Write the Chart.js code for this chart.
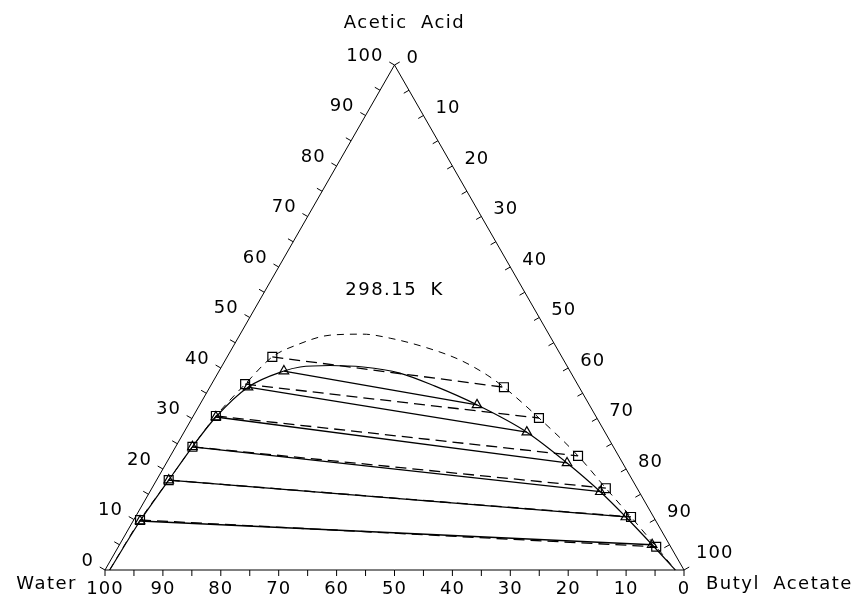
<!DOCTYPE html>
<html><head><meta charset="utf-8">
<script src="https://cdn.jsdelivr.net/npm/chart.js@4.4.0/dist/chart.umd.min.js"></script>
<style>html,body{margin:0;padding:0;background:#fff;} canvas{display:block;}</style>
</head><body>
<canvas id="c" width="854" height="599"></canvas>
<script>
// ---- data (mass %) ----
const tickValues  = [0,5,10,15,20,25,30,35,40,45,50,55,60,65,70,75,80,85,90,95,100];
const labelValues = [0,10,20,30,40,50,60,70,80,90,100];
const componentNames = ['Water', 'Acetic Acid', 'Butyl Acetate'];
const temperatureLabel = '298.15 K';

// experimental tie lines: water-rich phase / ester-rich phase
const expAqAcid   = [42.2, 36.8, 30.5, 24.4, 17.8, 9.9];
const expAqButyl  = [7.8, 5.8, 3.9, 2.9, 2.1, 1.1];
const expOrgAcid  = [36.2, 30.1, 22.6, 16.2, 10.5, 4.6];
const expOrgButyl = [50.8, 59.9, 70.4, 78.4, 85.6, 92.9];
// calculated tie lines
const calcAqAcid   = [39.4, 36.2, 30.3, 24.4, 17.8, 9.7];
const calcAqButyl  = [11.2, 6.6, 4.0, 2.9, 2.1, 1.2];
const calcOrgAcid  = [32.7, 27.3, 21.2, 15.5, 10.5, 5.0];
const calcOrgButyl = [47.9, 59.2, 69.2, 77.8, 84.7, 92.0];
// binodal curves
const expBinAcid   = [0, 9.9, 17.8, 24.4, 30.5, 36.8, 42.2, 44.6, 46.5, 46.7, 45.9, 44.0, 41.6, 38.6, 36.2, 30.1, 22.6, 16.2, 10.5, 4.6, 0];
const expBinButyl  = [0.8, 1.1, 2.1, 2.9, 3.9, 5.8, 7.8, 10.9, 15.6, 21.2, 26.3, 33.6, 40.5, 46.7, 50.8, 59.9, 70.4, 78.4, 85.6, 92.9, 98.5];
const calcBinAcid  = [0, 9.7, 17.8, 24.4, 30.3, 36.2, 39.4, 40.2, 40.5, 40.2, 39.0, 36.4, 32.7, 27.3, 21.2, 15.5, 10.5, 5.0, 0];
const calcBinButyl = [0.8, 1.2, 2.1, 2.9, 4.0, 6.6, 11.2, 13.6, 18.6, 24.5, 31.4, 38.8, 47.9, 59.2, 69.2, 77.8, 84.7, 92.0, 98.5];

// ---- ternary -> chart coordinates ----
function tern(acid, butyl) { return { x: butyl + acid / 2, y: acid }; }

const datasets = [];
const black = '#000';
// frame
datasets.push({ data: [tern(0,0), tern(100,0), tern(0,100), tern(0,0)], showLine: true,
  borderColor: black, borderWidth: 1, pointRadius: 0, tension: 0 });
// binodals
datasets.push({ data: expBinAcid.map((a,i) => tern(a, expBinButyl[i])), showLine: true,
  borderColor: black, borderWidth: 1, borderDash: [7,6], pointRadius: 0, cubicInterpolationMode: 'monotone' });
datasets.push({ data: calcBinAcid.map((a,i) => tern(a, calcBinButyl[i])), showLine: true,
  borderColor: black, borderWidth: 1.2, pointRadius: 0, cubicInterpolationMode: 'monotone' });
// tie lines
expAqAcid.forEach((a,i) => {
  datasets.push({ data: [tern(a, expAqButyl[i]), tern(expOrgAcid[i], expOrgButyl[i])], showLine: true,
    borderColor: black, borderWidth: 1.3, borderDash: [11,6], pointStyle: 'rect', pointRadius: 6.3,
    pointBorderColor: black, pointBorderWidth: 1.2, pointBackgroundColor: 'rgba(0,0,0,0)' });
});
calcAqAcid.forEach((a,i) => {
  datasets.push({ data: [tern(a, calcAqButyl[i]), tern(calcOrgAcid[i], calcOrgButyl[i])], showLine: true,
    borderColor: black, borderWidth: 1.3, pointStyle: 'triangle', pointRadius: 5.5,
    pointBorderColor: black, pointBorderWidth: 1.2, pointBackgroundColor: 'rgba(0,0,0,0)' });
});

const FONT = '18px "DejaVu Sans", sans-serif';
const ternaryAxes = {
  id: 'ternaryAxes',
  afterDatasetsDraw(chart) {
    const { ctx, scales: { x, y } } = chart;
    const px = (a, b) => { const p = tern(a, b); return [x.getPixelForValue(p.x), y.getPixelForValue(p.y)]; };
    const W = px(0,0), A = px(100,0), B = px(0,100);
    const norm = (v) => { const l = Math.hypot(v[0], v[1]); return [v[0]/l, v[1]/l]; };
    const dL = norm([A[0]-W[0], A[1]-W[1]]);
    const nL = [dL[1], -dL[0]];           // outward, left edge
    const dR = norm([B[0]-A[0], B[1]-A[1]]);
    const nR = [-dR[1], dR[0]];           // inward, right edge
    const T = 6;
    ctx.save();
    ctx.strokeStyle = black; ctx.lineWidth = 1;
    ctx.beginPath();
    tickValues.forEach(v => {
      let p = px(v, 0);                     // acetic acid axis (left)
      ctx.moveTo(p[0], p[1]); ctx.lineTo(p[0] + nL[0]*T, p[1] + nL[1]*T);
      p = px(100 - v, v);                   // butyl acetate axis (right)
      const dir = (v === 0 || v === 100) ? [-nR[0], -nR[1]] : nR;
      ctx.moveTo(p[0], p[1]); ctx.lineTo(p[0] + dir[0]*T, p[1] + dir[1]*T);
      p = px(0, 100 - v);                   // water axis (bottom), v = water %
      ctx.moveTo(p[0], p[1]); ctx.lineTo(p[0], p[1] + T);
    });
    ctx.stroke();

    ctx.fillStyle = black; ctx.font = FONT;
    ctx.letterSpacing = '1px';
    ctx.textBaseline = 'middle';
    labelValues.forEach(v => {
      let p = px(v, 0);
      ctx.textAlign = 'right'; ctx.fillText(String(v), p[0] - 11, p[1] - 9);
      p = px(100 - v, v);
      ctx.textAlign = 'left'; ctx.fillText(String(v), p[0] + 12, p[1] - (v === 100 ? 17 : 7));
      p = px(0, 100 - v);
      ctx.textAlign = 'center'; ctx.fillText(String(v), p[0], p[1] + 19);
    });
    // component names
    ctx.letterSpacing = '1.5px';
    ctx.wordSpacing = '6px';
    ctx.textAlign = 'center'; ctx.fillText(componentNames[1], A[0] + 10, A[1] - 42);
    ctx.textAlign = 'right'; ctx.fillText(componentNames[0], W[0] - 28, W[1] + 14);
    ctx.textAlign = 'left'; ctx.fillText(componentNames[2], B[0] + 22, B[1] + 14);
    // temperature
    ctx.textAlign = 'center';
    ctx.fillText(temperatureLabel, x.getPixelForValue(50), y.getPixelForValue(55.3));
    ctx.restore();
  }
};

new Chart(document.getElementById('c'), {
  type: 'scatter',
  data: { datasets },
  options: {
    responsive: false, animation: false,
    layout: { padding: { left: 105, right: 170, top: 65, bottom: 29 } },
    plugins: { legend: { display: false }, tooltip: { enabled: false }, title: { display: false } },
    elements: { line: { borderCapStyle: 'butt' } },
    datasets: { scatter: { clip: false } },
    scales: {
      x: { type: 'linear', min: 0, max: 100, display: false },
      y: { type: 'linear', min: 0, max: 100, display: false }
    }
  },
  plugins: [ternaryAxes]
});
</script>
</body></html>
